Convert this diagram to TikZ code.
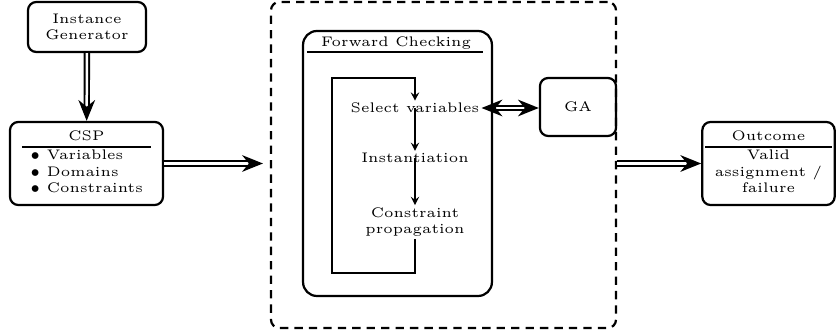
\documentclass[tikz,border=0pt]{standalone}
\usepackage{tikz}
\usetikzlibrary{arrows.meta,positioning,calc}
\setlength{\arrayrulewidth}{0.8pt}
\tikzset{bigtip/.tip={Stealth[length=7.5pt,width=6pt]},
         smalltip/.tip={Stealth[length=3pt,width=3pt,inset=1.1pt]}}

\begin{document}
\begin{tikzpicture}[x=0.36pt,y=-0.36pt,font=\tiny,
    box/.style={draw,thick,rounded corners=3pt,align=center,inner sep=1pt},
    dblarrow/.style={line width=0.7pt,double distance=0.9pt},
    flow/.style={semithick,-smalltip},
    step text/.style={inner sep=0.6pt,align=center}]
  \useasboundingbox (0,0) rectangle (836,332);

  % Solver frame
  \node[draw,thick,dash pattern=on 3pt off 2.2pt,rounded corners=3pt,
        minimum width=124.2pt,minimum height=117.4pt] (solver) at (443.5,165) {};

  % Forward checking block
  \node[draw,thick,rounded corners=5pt,minimum width=68pt,minimum height=95.4pt] (fc) at (397.5,163.5) {};
  \node (fctitle) at (396,43) {Forward Checking};
  \draw[thick] ($(fc.north west)+(5,22)$) -- ($(fc.north east)+(-10,22)$);

  % Steps
  \node[step text] (sel) at (415,108) {Select variables};
  \node[step text] (inst) at (415,158) {Instantiation};
  \node[step text] (prop) at (415,222) {Constraint\\propagation};

  % Boxes
  \node[box,minimum width=42.5pt,minimum height=18pt] (gen) at (87,27) {Instance\\Generator};
  \node[box,minimum width=55.1pt,minimum height=29.9pt] (csp) at (86.5,163.5)
    {\begin{tabular}{@{\hspace{3pt}}l@{\hspace{3pt}}}
      \multicolumn{1}{c}{CSP}\\\hline
      $\bullet$ Variables\\
      $\bullet$ Domains\\
      $\bullet$ Constraints
    \end{tabular}};
  \node[box,minimum width=27.4pt,minimum height=20.9pt] (ga) at (578,107) {GA};
  \node[box,minimum width=47.2pt,minimum height=29.9pt] (out) at (768.5,163.5)
    {\begin{tabular}{@{\hspace{3.5pt}}c@{\hspace{3.5pt}}}
      Outcome\\\hline
      Valid\\
      assignment /\\
      failure
    \end{tabular}};

  % Loop
  \draw[flow] (prop.south) |- (332,273) -- (332,78) -| (sel.north);
  \draw[flow] (sel.center) -- (inst.north);
  \draw[flow] (inst.center) -- (prop.north);

  % Double arrows
  \draw[dblarrow,-bigtip] (gen) -- (csp);
  \draw[dblarrow,-bigtip,shorten >=2.5pt] (csp.east) -- (csp.east -| solver.west);
  \draw[dblarrow,bigtip-bigtip] (sel.east) -- (sel.east -| ga.west);
  \draw[dblarrow,-bigtip] (out.west -| solver.east) -- (out.west);
\end{tikzpicture}
\end{document}
